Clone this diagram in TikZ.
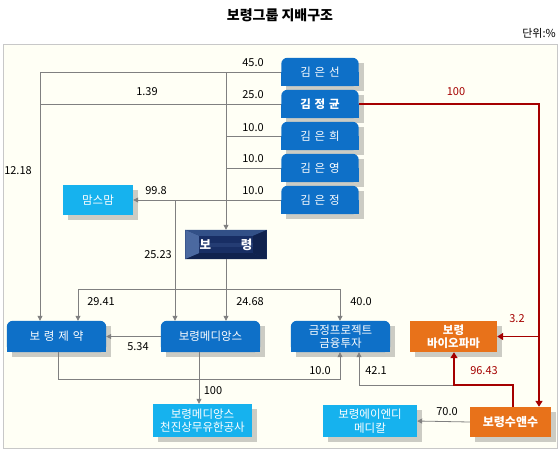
\documentclass[tikz,border=0pt]{standalone}
\usepackage{fontspec}
\setmainfont{Noto Sans CJK KR}
\usetikzlibrary{arrows.meta,backgrounds,calc}
\definecolor{bgc}{RGB}{255,255,245}
\definecolor{bordc}{RGB}{200,200,200}
\definecolor{kblue}{RGB}{14,112,200}
\definecolor{lblue}{RGB}{22,178,238}
\definecolor{korange}{RGB}{232,114,26}
\definecolor{kred}{RGB}{165,0,0}
\definecolor{lgray}{RGB}{128,128,128}
\definecolor{navyA}{RGB}{30,55,108}
\definecolor{navyL}{RGB}{75,105,160}
\definecolor{navyT}{RGB}{50,80,135}
\definecolor{navyD}{RGB}{16,34,78}
\definecolor{navyI}{RGB}{24,46,100}
\definecolor{navyB}{RGB}{36,60,115}
\newcommand\myshadow[1]{\fill[black,opacity=.2] ([xshift=5pt,yshift=-5pt]#1.south west) rectangle ([xshift=5pt,yshift=-5pt]#1.north east);}
\newcommand\toprounded[2]{\myshadow{#1}\fill[#2,rounded corners=6pt] (#1.south west) rectangle (#1.north east);\fill[#2] (#1.south west) rectangle (#1.east);}
\newcommand\flatbox[2]{\myshadow{#1}\fill[#2] (#1.south west) rectangle (#1.north east);}
\begin{document}
\begin{tikzpicture}[x=1pt,y=-1pt,
  nd/.style={inner sep=0pt,text=white,align=center,font=\fontsize{11.5}{13.5}\selectfont},
  kim/.style={nd,minimum width=77pt,minimum height=28pt},
  lbl/.style={inner sep=0pt,font=\fontsize{11}{13}\selectfont},
  rlbl/.style={lbl,text=kred},
  gl/.style={draw=lgray,line width=0.8pt},
  ga/.style={gl,-{Triangle[width=5pt,length=5pt]}},
  rl/.style={draw=kred,line width=1.8pt},
  ra/.style={rl,-{Triangle[width=7pt,length=6pt]}}]
\useasboundingbox (0,0) rectangle (560,451);
% title
\node[font=\fontsize{14}{16}\selectfont\bfseries] (title) at (280,15) {보령그룹 지배구조};
\node[lbl,anchor=east] (unit) at (556,33) {단위:\%};
% owners
\node[kim] (k1) at (320,72) {김\,\,은\,\,선};
\node[kim,font=\fontsize{11.5}{13.5}\selectfont\bfseries] (k2) at (320,104) {김\,\,정\,\,균};
\node[kim] (k3) at (320,136) {김\,\,은\,\,희};
\node[kim] (k4) at (320,168) {김\,\,은\,\,영};
\node[kim] (k5) at (320,200) {김\,\,은\,\,정};
\node[nd,minimum width=70pt,minimum height=29pt] (ms) at (98,200) {맘스맘};
\node[nd,minimum width=81pt,minimum height=29pt,font=\fontsize{12.5}{14}\selectfont\bfseries] (br) at (226,244.5) {보\hspace{2.4em}령};
\node[nd,minimum width=99pt,minimum height=31pt] (bj) at (56.5,336.5) {보\,\,령\,\,제\,\,약};
\node[nd,minimum width=99pt,minimum height=31pt] (bm) at (210.5,336.5) {보령메디앙스};
\node[nd,minimum width=99pt,minimum height=31pt] (gj) at (340.5,336.5) {금정프로젝트\\금융투자};
\node[nd,minimum width=87pt,minimum height=31pt,font=\fontsize{11.5}{13.5}\selectfont\bfseries] (bio) at (453.5,336.5) {보령\\바이오파마};
\node[nd,minimum width=81pt,minimum height=30pt,font=\fontsize{12}{14}\selectfont\bfseries] (ss) at (510.5,422) {보령수앤수};
\node[nd,minimum width=94pt,minimum height=32pt] (ad) at (370,421) {보령에이엔디\\메디칼};
\node[nd,minimum width=99pt,minimum height=33pt] (tj) at (202.5,420.5) {보령메디앙스\\천진상무유한공사};
% backgrounds and boxes
\begin{scope}[on background layer]
\fill[bgc] (3,44) rectangle (557,448);
\draw[bordc,line width=1pt] (3,44) rectangle (557,448);
\foreach \n in {k1,k2,k3,k4,k5,bj,bm,gj}{\toprounded{\n}{kblue}}
\foreach \n in {ms,ad,tj}{\flatbox{\n}{lblue}}
\foreach \n in {bio,ss}{\flatbox{\n}{korange}}
% beveled navy box
\fill[navyA] (br.south west) rectangle (br.north east);
\fill[navyL] (br.south west) -- (br.north west) -- ($(br.north west)+(14pt,-6pt)$) -- ($(br.south west)+(14pt,6pt)$) -- cycle;
\fill[navyD] (br.south east) -- (br.north east) -- ($(br.north east)+(-14pt,-6pt)$) -- ($(br.south east)+(-14pt,6pt)$) -- cycle;
\fill[navyT] (br.north west) -- (br.north east) -- ($(br.north east)+(-14pt,-6pt)$) -- ($(br.north west)+(14pt,-6pt)$) -- cycle;
\fill[navyD] (br.south west) -- (br.south east) -- ($(br.south east)+(-14pt,6pt)$) -- ($(br.south west)+(14pt,6pt)$) -- cycle;
\fill[navyI] ($(br.south west)+(14pt,6pt)$) rectangle ($(br.north east)+(-14pt,-6pt)$);
\fill[navyB] ($(br.west)+(14pt,-2pt)$) rectangle ($(br.east)+(-14pt,2pt)$);
\end{scope}
% gray connectors
\coordinate (vL) at (40,72);
\draw[ga] (k1.west) -- (vL) -- (vL |- bj.north);
\draw[ga] (k1.west -| br.north) -- (br.north);
\draw[gl] (k2.west) -- (k2.west -| vL);
\draw[gl] (k3.west) -- (k3.west -| br.north);
\draw[gl] (k4.west) -- (k4.west -| br.north);
\draw[ga] (k5.west) -- (ms.east);
\coordinate (v175) at (175,200);
\draw[ga] (v175) -- (v175 |- bm.north);
\coordinate (hL) at (78,289);
\coordinate (hR) at (340,289);
\draw[gl] (br.south) -- (br.south |- hL);
\draw[gl] (hL) -- (hR);
\draw[ga] (hL) -- (hL |- bj.north);
\draw[ga] (br.south |- hL) -- (br.south |- bm.north);
\draw[ga] (hR) -- (hR |- gj.north);
\draw[ga] (bm.west) -- (bj.east);
\coordinate (b1) at (58,379);
\coordinate (b2) at (340,379);
\draw[ga] (b1 |- bj.south) -- (b1) -- (b2) -- (b2 |- gj.south);
\coordinate (m1) at (199,380);
\draw[ga] (m1 |- bm.south) -- (m1 |- tj.north);
\coordinate (r3) at (454,385);
\coordinate (g3) at (359,385);
\draw[ga] (r3) -- (g3) -- (g3 |- gj.south);
\draw[ga] (ss.west) -- (ad.east);
% red connectors
\coordinate (r1) at (539,104);
\draw[ra] (k2.east) -- (r1) -- (r1 |- ss.north);
\draw[ra] (r1 |- bio.east) -- (bio.east);
\coordinate (r2) at (513,385);
\draw[ra] (r2 |- ss.north) -- (r2) -- (r3) -- (r3 |- bio.south);
% labels
\node[lbl] (l1) at (253,63) {45.0};
\node[lbl] (l2) at (147,92) {1.39};
\node[lbl] (l3) at (253,95) {25.0};
\node[lbl] (l4) at (253,128) {10.0};
\node[lbl] (l5) at (253,159) {10.0};
\node[lbl] (l6) at (253,191) {10.0};
\node[lbl] (l7) at (18,171) {12.18};
\node[lbl] (l8) at (156,191) {99.8};
\node[lbl] (l9) at (158,255) {25.23};
\node[lbl] (l10) at (101,302) {29.41};
\node[lbl] (l11) at (250,302) {24.68};
\node[lbl] (l12) at (361,302) {40.0};
\node[lbl] (l13) at (138,347) {5.34};
\node[lbl] (l14) at (213,391) {100};
\node[lbl] (l15) at (320,371) {10.0};
\node[lbl] (l16) at (376,371) {42.1};
\node[rlbl] (l17) at (484,371) {96.43};
\node[rlbl] (l18) at (517,319) {3.2};
\node[rlbl] (l19) at (456,92) {100};
\node[lbl] (l20) at (447,412) {70.0};
\end{tikzpicture}
\end{document}
